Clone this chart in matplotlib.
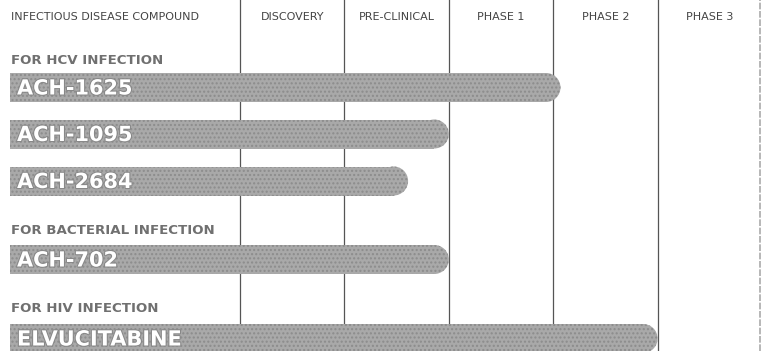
import matplotlib.pyplot as plt
from matplotlib.patches import Ellipse
import matplotlib.patheffects as pe

# pipeline stages (columns) and compounds
stages = ["DISCOVERY", "PRE-CLINICAL", "PHASE 1", "PHASE 2", "PHASE 3"]
compounds = ["ACH-1625", "ACH-1095", "ACH-2684", "ACH-702", "ELVUCITABINE"]
# progress measured in stages completed (0 = start of discovery)
progress = [3.07, 2.0, 1.61, 2.0, 4.0]
groups = ["FOR HCV INFECTION", "FOR BACTERIAL INFECTION", "FOR HIV INFECTION"]

# layout (pixels, figure is 763 x 351)
W, H = 763, 351
col0 = 240
colw = 104.4
bar_y = [87.5, 134, 181, 259.5, 338.5]
bar_h = 29
group_y = [60, 231, 308]
bar_left = 10

fig = plt.figure(figsize=(W / 100, H / 100), dpi=100)
ax = fig.add_axes([0, 0, 1, 1])
ax.set_xlim(-col0 / colw, (W - col0) / colw)
ax.set_ylim(H, 0)
ax.axis("off")

px = 1 / colw  # one pixel in x data units
x_txt = (bar_left + 1 - col0) * px

# column separators
for k in range(len(stages)):
    ax.axvline(k, color="#555555", lw=0.9, zorder=1)
ax.axvline(len(stages) - 0.02, color="#aaaaaa", lw=1.2, ls=(0, (4, 1)), zorder=1)

# headers
ax.text(x_txt, 17, "INFECTIOUS DISEASE COMPOUND",
        fontsize=8, color="#444444", va="center", ha="left")
for k, s in enumerate(stages):
    ax.text(k + 0.5, 17, s, fontsize=8, color="#444444",
            va="center", ha="center")

for g, gy in zip(groups, group_y):
    ax.text(x_txt, gy, g, fontsize=9.6, fontweight="bold", color="#707070",
            va="center", ha="left")

# bars with rounded right end
start = (bar_left - col0) * px
r = bar_h / 2 * px
for name, val, y in zip(compounds, progress, bar_y):
    ax.barh(y, val - r - start, left=start, height=bar_h, color="#a9a9a9",
            edgecolor="#8c8c8c", hatch="....", lw=0, zorder=3)
    ax.add_patch(Ellipse((val - r, y), 2 * r, bar_h, facecolor="#a9a9a9",
                         edgecolor="#8c8c8c", hatch="....", lw=0, zorder=3))
    ax.text(start + 7 * px, y + 1, name, fontsize=15, fontweight="bold",
            color="white", va="center", ha="left", zorder=4,
            path_effects=[pe.withStroke(linewidth=1.5, foreground="#888888")])

plt.savefig("out.png", dpi=100)
